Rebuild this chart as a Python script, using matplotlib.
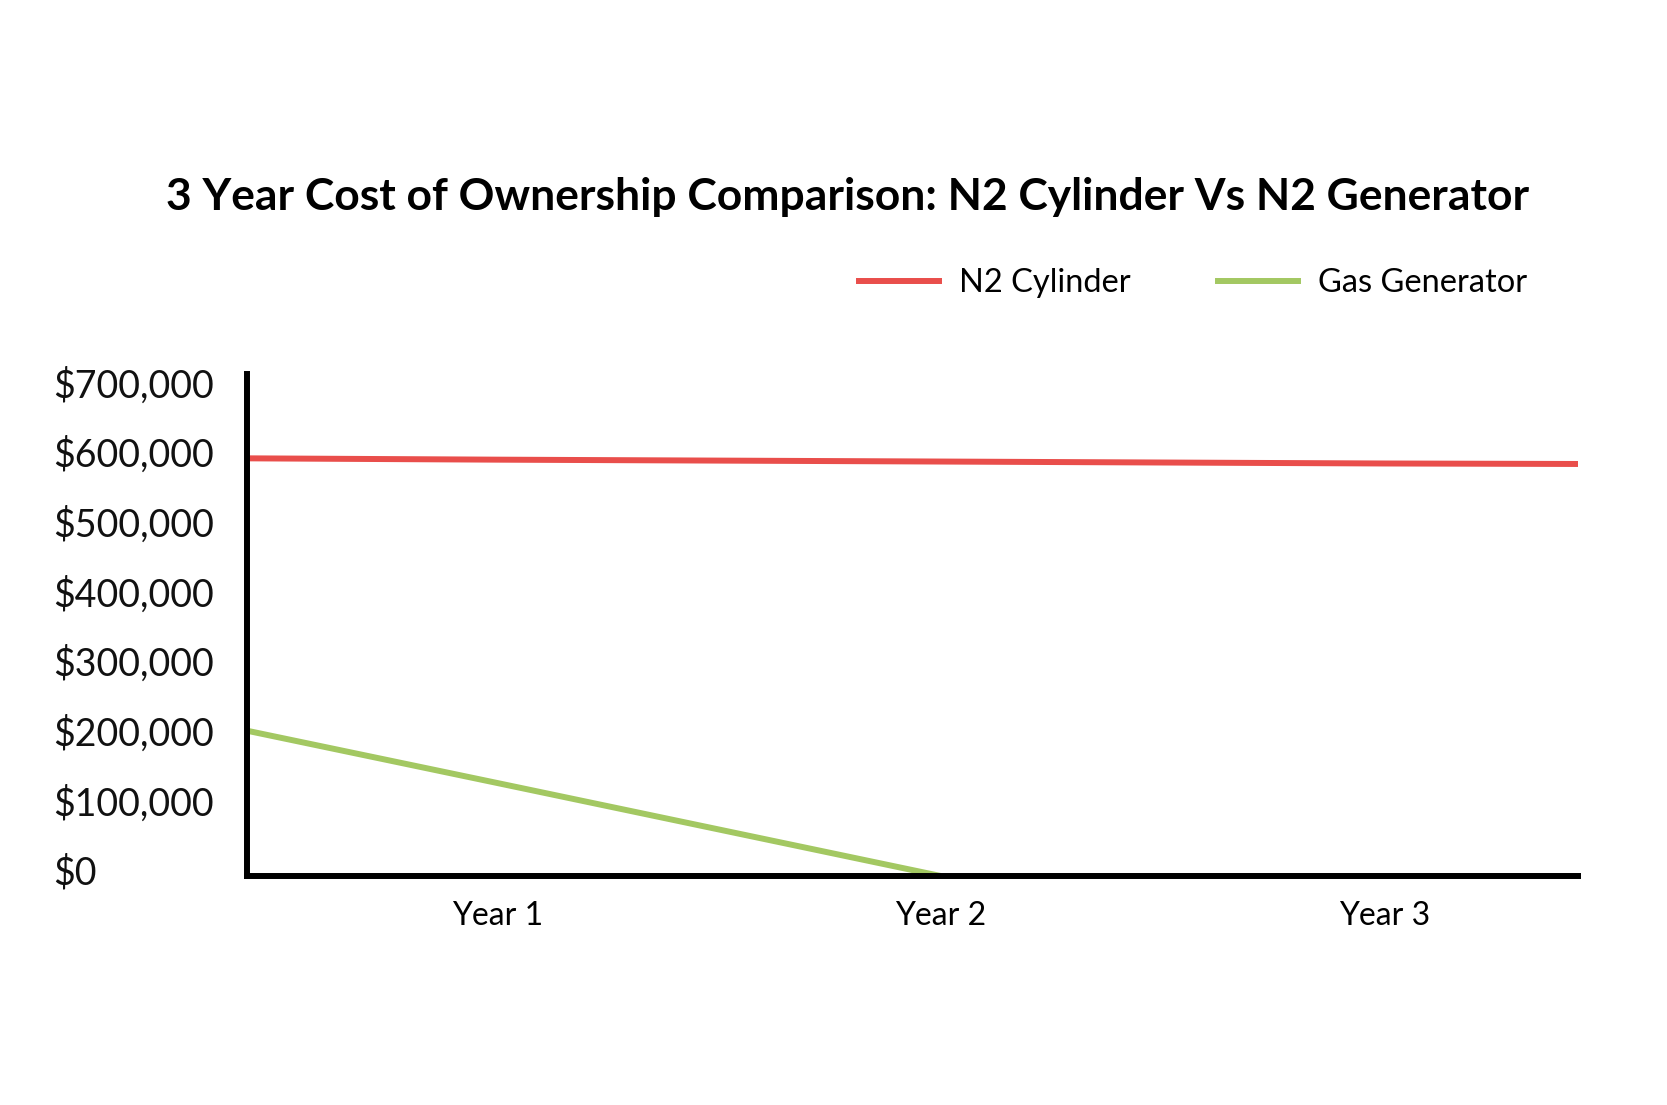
import matplotlib
matplotlib.use("Agg")
import matplotlib.pyplot as plt
from matplotlib.lines import Line2D
from matplotlib.transforms import ScaledTranslation

# ---- data ----
title = "3 Year Cost of Ownership Comparison: N2 Cylinder Vs N2 Generator"
year_labels = ["Year 1", "Year 2", "Year 3"]
year_positions = [1, 2, 3]

# time (years) at which each series value is read
cyl_time = [0.436, 1, 2, 3, 3.437]
n2_cylinder = [599400, 597500, 594800, 592000, 591300]

gen_time = [0.436, 1, 2]
gas_generator = [208500, 133500, 0]

y_ticks = [0, 100000, 200000, 300000, 400000, 500000, 600000, 700000]
y_tick_labels = ["$0", "$100,000", "$200,000", "$300,000", "$400,000",
                 "$500,000", "$600,000", "$700,000"]

RED = "#E94E4B"
GREEN = "#A3C862"
FONT = "Lato"

W, H = 1667, 1105
fig = plt.figure(figsize=(W / 100, H / 100), dpi=100)
fig.patch.set_facecolor("white")
ax = fig.add_axes([247 / W, 1 - 876 / H, (1578 - 247) / W, (876 - 374.3) / H])

ax.plot(cyl_time, n2_cylinder, color=RED, lw=4.3, solid_capstyle="butt")
ax.plot(gen_time, gas_generator, color=GREEN, lw=4.3, solid_capstyle="butt")

ax.set_xlim(0.436, 3.437)
ax.set_ylim(0, 720000)

for s in ["top", "right"]:
    ax.spines[s].set_visible(False)
for s in ["left", "bottom"]:
    ax.spines[s].set_linewidth(4.3)
    ax.spines[s].set_color("black")
    ax.spines[s].set_zorder(5)

ax.set_xticks(year_positions)
ax.set_xticklabels(year_labels, fontsize=23, family=FONT, color="black")
ax.set_yticks(y_ticks)
ax.set_yticklabels(y_tick_labels, fontsize=27, family=FONT, color="#111111")
ax.tick_params(axis="both", length=0)
ax.tick_params(axis="x", pad=18)
ax.tick_params(axis="y", pad=(247 - 53) * 72 / 100)
off = ScaledTranslation(0, 6 / 100, fig.dpi_scale_trans)
for lab in ax.get_yticklabels():
    lab.set_ha("left")
    lab.set_transform(lab.get_transform() + off)

# title, fitted to reference width
t = fig.text(848 / W, 1 - 197 / H, title, ha="center", va="center",
             fontsize=30, fontweight="bold", family=FONT, color="black")
fig.canvas.draw()
r = fig.canvas.get_renderer()
w = t.get_window_extent(r).width
t.set_fontsize(30 * 1360 / w)

handles = [Line2D([], [], color=RED, lw=4.3), Line2D([], [], color=GREEN, lw=4.3)]
leg = ax.legend(handles, ["N2 Cylinder", "Gas Generator"], loc="center right",
                bbox_to_anchor=(1527 / W, 1 - 283 / H), bbox_transform=fig.transFigure,
                ncol=2, frameon=False, handlelength=2.45, handletextpad=0.6,
                columnspacing=2.7, borderpad=0, borderaxespad=0,
                prop={"family": FONT, "size": 23.5})

fig.savefig("out.png", dpi=100, facecolor="white")
